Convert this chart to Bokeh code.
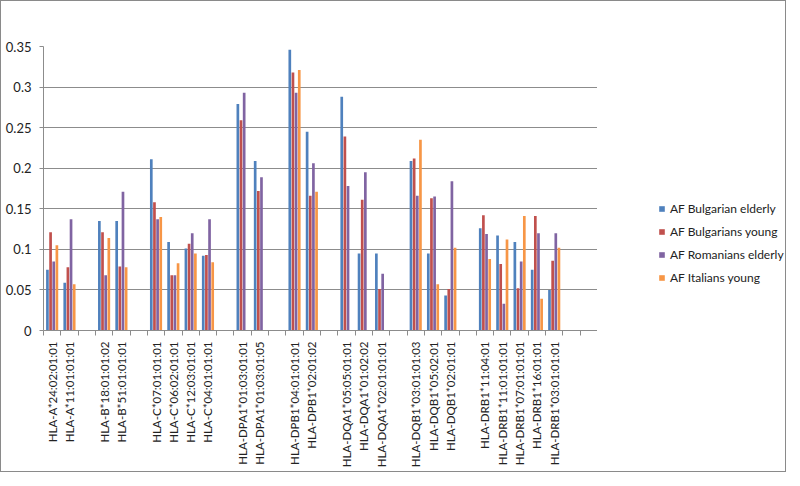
from bokeh.plotting import figure
from bokeh.layouts import row
from bokeh.models import Range1d, FixedTicker, Legend, LegendItem, ColumnDataSource
from bokeh.embed import file_html
from bokeh.resources import INLINE
import math

categories = ["HLA-A*24:02:01:01", "HLA-A*11:01:01:01", "",
              "HLA-B*18:01:01:02", "HLA-B*51:01:01:01", "",
              "HLA-C*07:01:01:01", "HLA-C*06:02:01:01", "HLA-C*12:03:01:01", "HLA-C*04:01:01:01", "",
              "HLA-DPA1*01:03:01:01", "HLA-DPA1*01:03:01:05", "",
              "HLA-DPB1*04:01:01:01", "HLA-DPB1*02:01:02", "",
              "HLA-DQA1*05:05:01:01", "HLA-DQA1*01:02:02", "HLA-DQA1*02:01:01:01", "",
              "HLA-DQB1*03:01:01:03", "HLA-DQB1*05:02:01", "HLA-DQB1*02:01:01", "",
              "HLA-DRB1*11:04:01", "HLA-DRB1*11:01:01:01", "HLA-DRB1*07:01:01:01", "HLA-DRB1*16:01:01",
              "HLA-DRB1*03:01:01:01", "", ""]

bg_elderly = [0.075, 0.059, None, 0.135, 0.135, None, 0.211, 0.109, 0.101, 0.092, None,
              0.279, 0.209, None, 0.346, 0.245, None, 0.288, 0.095, 0.095, None,
              0.209, 0.095, 0.043, None, 0.126, 0.117, 0.109, 0.075, 0.050, None, None]
bg_young = [0.121, 0.078, None, 0.121, 0.079, None, 0.158, 0.068, 0.107, 0.093, None,
            0.259, 0.172, None, 0.318, 0.166, None, 0.239, 0.161, 0.051, None,
            0.212, 0.163, 0.051, None, 0.142, 0.082, 0.052, 0.141, 0.086, None, None]
ro_elderly = [0.085, 0.137, None, 0.068, 0.171, None, 0.137, 0.068, 0.120, 0.137, None,
              0.293, 0.189, None, 0.293, 0.206, None, 0.178, 0.195, 0.070, None,
              0.166, 0.165, 0.184, None, 0.119, 0.033, 0.085, 0.120, 0.120, None, None]
it_young = [0.105, 0.057, None, 0.114, 0.078, None, 0.140, 0.083, 0.095, 0.084, None,
            None, None, None, 0.321, 0.171, None, None, None, None, None,
            0.235, 0.057, 0.102, None, 0.088, 0.112, 0.141, 0.039, 0.102, None, None]

series_names = ["AF Bulgarian elderly", "AF Bulgarians young", "AF Romanians elderly", "AF Italians young"]
series_values = [bg_elderly, bg_young, ro_elderly, it_young]
colors = ["#4F81BD", "#C0504D", "#8064A2", "#F79646"]
y_ticks = [0, 0.05, 0.1, 0.15, 0.2, 0.25, 0.3, 0.35]

FONT = "Lato"
GRID = "#8c8c8c"
TEXT = "#222222"

n = len(categories)
p = figure(frame_width=554, frame_height=284, output_backend="svg", toolbar_location=None,
           x_range=Range1d(0, n), y_range=Range1d(0, 0.35),
           min_border_left=42, min_border_right=0, min_border_top=45, min_border_bottom=141)
p.outline_line_color = None
p.xgrid.grid_line_color = None
p.ygrid.grid_line_color = GRID
p.ygrid.grid_line_width = 1

offsets = [-0.273, -0.091, 0.091, 0.273]
for vals, col, off in zip(series_values, colors, offsets):
    xs = [i + 0.5 + off for i, v in enumerate(vals) if v is not None]
    tops = [v for v in vals if v is not None]
    src = ColumnDataSource(dict(x=xs, top=tops))
    p.vbar(x="x", top="top", width=0.155, source=src, fill_color=col, line_color=None)

centers = [i + 0.5 for i, c in enumerate(categories) if c]
p.xaxis.ticker = FixedTicker(ticks=centers, minor_ticks=list(range(n + 1)))
p.xaxis.major_label_overrides = {i + 0.5: c for i, c in enumerate(categories) if c}
p.xaxis.major_label_orientation = math.pi / 2
p.xaxis.major_tick_line_color = None
p.xaxis.minor_tick_in = 0
p.xaxis.minor_tick_out = 5
p.xaxis.minor_tick_line_color = GRID
p.xaxis.axis_line_color = GRID
p.xaxis.major_label_text_font = FONT
p.xaxis.major_label_text_font_size = "11.5px"
p.xaxis.major_label_text_color = TEXT
p.xaxis.major_label_standoff = 5

p.yaxis.ticker = FixedTicker(ticks=y_ticks)
p.yaxis.major_label_overrides = {t: f"{t:g}" for t in y_ticks}
p.yaxis.minor_tick_line_color = None
p.yaxis.major_tick_in = 0
p.yaxis.major_tick_out = 4
p.yaxis.major_tick_line_color = GRID
p.yaxis.axis_line_color = GRID
p.yaxis.major_label_text_font = FONT
p.yaxis.major_label_text_font_size = "13px"
p.yaxis.major_label_text_color = TEXT
p.yaxis.major_label_standoff = 8

# legend panel at the right (its frame is aligned with the main plot's frame)
lf = figure(width=188, height=470, output_backend="svg", toolbar_location=None,
            min_border=0, x_range=Range1d(0, 1), y_range=Range1d(0, 1))
lf.outline_line_color = None
lf.axis.visible = False
lf.grid.visible = False
items = []
for name, col in zip(series_names, colors):
    # zero-height placeholder so the legend has a colour swatch
    r = lf.vbar(x=[0.5], top=[0], bottom=[0], width=0.0, fill_color=col, line_color=None)
    items.append(LegendItem(label=name, renderers=[r]))
legend = Legend(items=items, location=(61, 45), orientation="vertical",
                glyph_width=7, glyph_height=7, label_height=16, spacing=7,
                label_standoff=5, padding=0, margin=0,
                label_text_font=FONT, label_text_font_size="12px", label_text_color=TEXT,
                border_line_color=None, background_fill_alpha=0)
lf.add_layout(legend, "center")

layout = row(p, lf, spacing=0)
layout.styles = {"border": "1px solid #8a8a8a"}

open("out.html", "w").write(file_html(layout, INLINE))
